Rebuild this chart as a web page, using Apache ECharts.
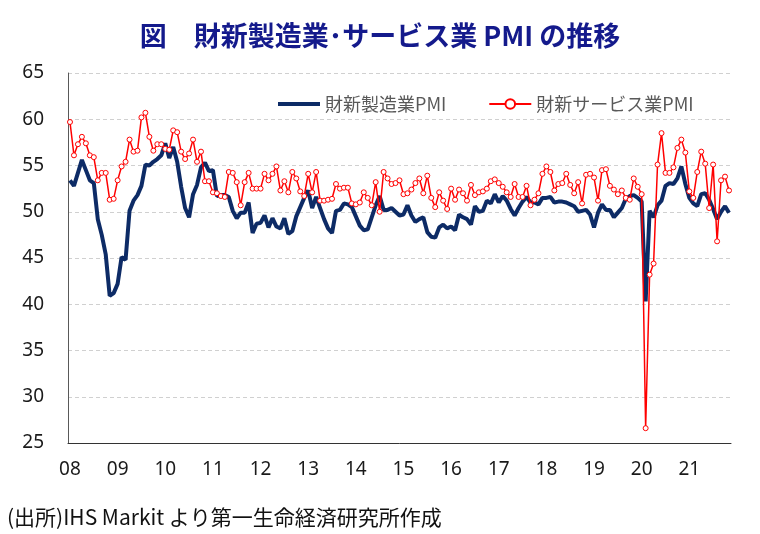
<!DOCTYPE html>
<html>
<head>
<meta charset="utf-8">
<script src="https://cdn.jsdelivr.net/npm/echarts@6/dist/echarts.min.js"></script>
<style>
  html, body { margin: 0; padding: 0; background: #fff; }
  #chart { width: 760px; height: 534px; }
</style>
</head>
<body>
<div id="chart"></div>
<script>
// 年ラベル（各年1月に表示）
const years = ['08', '09', '10', '11', '12', '13', '14', '15', '16', '17', '18', '19', '20', '21']

// 財新製造業PMI（2008/1～2021/11, 月次）
const mfgPMI = [
  53.4, 52.8, 54.2, 55.6, 54.5, 53.4, 53.1, 49.2, 47.5, 45.4, 40.9, 41.2,
  42.2, 45.1, 44.8, 50.1, 51.2, 51.8, 52.8, 55.1, 55.0, 55.4, 55.7, 56.1,
  57.4, 55.8, 57.0, 55.4, 52.7, 50.4, 49.4, 51.9, 52.9, 54.8, 55.3, 54.4,
  54.5, 51.7, 51.8, 51.8, 51.6, 50.1, 49.3, 49.9, 49.9, 51.0, 47.7, 48.7,
  48.8, 49.6, 48.3, 49.3, 48.4, 48.2, 49.3, 47.6, 47.9, 49.5, 50.5, 51.5,
  52.3, 50.4, 51.6, 50.4, 49.2, 48.2, 47.7, 50.1, 50.2, 50.9, 50.8, 50.5,
  49.5, 48.5, 48.0, 48.1, 49.4, 50.7, 51.7, 50.2, 50.2, 50.4, 50.0, 49.6,
  49.7, 50.7, 49.6, 48.9, 49.2, 49.4, 47.8, 47.3, 47.2, 48.3, 48.6, 48.2,
  48.4, 48.0, 49.7, 49.4, 49.2, 48.6, 50.6, 50.0, 50.1, 51.2, 50.9, 51.9,
  51.0, 51.7, 51.2, 50.3, 49.6, 50.4, 51.1, 51.6, 51.0, 51.0, 50.8, 51.5,
  51.5, 51.6, 51.0, 51.1, 51.1, 51.0, 50.8, 50.6, 50.0, 50.1, 50.2, 49.7,
  48.3, 49.9, 50.8, 50.2, 50.2, 49.4, 49.9, 50.4, 51.4, 51.7, 51.8, 51.5,
  51.1, 40.3, 50.1, 49.4, 50.7, 51.2, 52.8, 53.1, 53.0, 53.6, 54.9, 53.0,
  51.5, 50.9, 50.6, 51.9, 52.0, 51.3, 50.3, 49.2, 50.0, 50.6, 49.9
]

// 財新サービス業PMI（2008/1～2021/11, 月次）
const svcPMI = [
  59.7, 56.1, 57.3, 58.1, 57.4, 56.1, 55.9, 53.4, 54.2, 54.2, 51.3, 51.4,
  53.4, 54.9, 55.4, 57.8, 56.5, 56.6, 60.2, 60.7, 58.1, 56.6, 57.3, 57.3,
  56.8, 56.7, 58.8, 58.6, 56.5, 55.7, 56.3, 57.8, 55.4, 56.5, 53.3, 53.3,
  52.1, 52.0, 51.7, 51.6, 54.3, 54.2, 53.2, 50.7, 53.2, 54.2, 52.5, 52.5,
  52.5, 54.1, 53.4, 54.1, 54.9, 52.3, 53.3, 52.1, 54.3, 53.6, 52.2, 51.7,
  54.1, 52.1, 54.3, 51.2, 51.2, 51.3, 51.4, 53.0, 52.5, 52.6, 52.6, 50.9,
  50.8, 51.0, 52.1, 51.5, 50.7, 53.2, 50.0, 54.3, 53.6, 53.0, 53.1, 53.4,
  51.9, 52.0, 52.4, 53.1, 53.6, 52.0, 53.9, 51.5, 50.5, 52.1, 51.2, 50.3,
  52.5, 51.3, 52.4, 52.0, 51.2, 52.9, 51.8, 52.1, 52.2, 52.5, 53.3, 53.5,
  53.1, 52.7, 52.1, 51.6, 53.0, 51.6, 51.6, 52.8, 50.7, 51.3, 52.0, 54.1,
  54.9, 54.3, 52.3, 53.0, 53.1, 54.1, 52.9, 52.0, 53.2, 50.9, 54.0, 54.1,
  53.7, 51.2, 54.5, 54.6, 52.8, 52.4, 51.9, 52.3, 51.5, 51.3, 53.6, 52.7,
  51.9, 26.6, 43.2, 44.4, 55.1, 58.5, 54.2, 54.2, 54.8, 56.9, 57.8, 56.4,
  52.2, 51.5, 54.3, 56.5, 55.2, 50.4, 55.1, 46.8, 53.4, 53.8, 52.3
]

// 月次カテゴリ 'YY/M'
const months = []
years.forEach(y => {
  for (let m = 1; m <= 12; m++) months.push(y + '/' + m)
})
const categories = months.slice(0, mfgPMI.length)

const chart = echarts.init(document.getElementById('chart'))
const jpFont = '"Noto Sans CJK JP", "Noto Sans", sans-serif'

const option = {
  animation: false,
  backgroundColor: '#fff',
  title: [
    {
      text: '図　財新製造業･サービス業 PMI の推移',
      left: 'center',
      top: 17,
      textStyle: { fontFamily: jpFont, fontSize: 27, fontWeight: 'bold', color: '#141a8c' }
    },
    {
      text: '(出所)IHS Markit より第一生命経済研究所作成',
      left: 2,
      top: 502,
      textStyle: { fontFamily: jpFont, fontSize: 21, fontWeight: 'normal', color: '#111' }
    }
  ],
  legend: {
    left: 273,
    top: 90,
    itemWidth: 42,
    itemHeight: 12,
    itemGap: 42,
    textStyle: { fontFamily: jpFont, fontSize: 18, color: '#595959' },
    data: [
      { name: '財新製造業PMI', icon: 'path://M0,0H42V4H0Z' },
      '財新サービス業PMI'
    ]
  },
  // 描画領域
  grid: { left: 68, right: 29, top: 73, bottom: 91 },
  xAxis: {
    type: 'category',
    data: categories,
    boundaryGap: true,
    axisLine: { lineStyle: { color: '#333', width: 1 } },
    axisTick: {
      inside: true,
      length: 8,
      interval: i => i % 12 === 0,
      lineStyle: { color: '#333' }
    },
    axisLabel: {
      interval: i => i % 12 === 0,
      formatter: v => v.split('/')[0],
      margin: 17,
      fontFamily: '"Noto Sans", sans-serif',
      fontSize: 19,
      color: '#1a1a1a'
    },
    splitLine: { show: false }
  },
  yAxis: {
    type: 'value',
    min: 25,
    max: 65,
    interval: 5,
    axisLine: { show: true, lineStyle: { color: '#595959', width: 1 } },
    axisTick: { show: false },
    axisLabel: {
      margin: 24,
      fontFamily: '"Noto Sans", sans-serif',
      fontSize: 19,
      color: '#1a1a1a'
    },
    splitLine: { lineStyle: { color: '#d0d0d0', type: [4, 3], width: 1 } }
  },
  series: [
    {
      name: '財新製造業PMI',
      type: 'line',
      data: mfgPMI,
      symbol: 'none',
      lineStyle: { color: '#0d2b66', width: 4 },
      itemStyle: { color: '#0d2b66' }
    },
    {
      name: '財新サービス業PMI',
      type: 'line',
      data: svcPMI,
      symbol: 'circle',
      symbolSize: 5,
      showSymbol: true,
      showAllSymbol: true,
      lineStyle: { color: '#ff0000', width: 1.5 },
      itemStyle: { color: '#ffffff', borderColor: '#ff0000', borderWidth: 1 }
    }
  ]
}

chart.setOption(option)
</script>
</body>
</html>
